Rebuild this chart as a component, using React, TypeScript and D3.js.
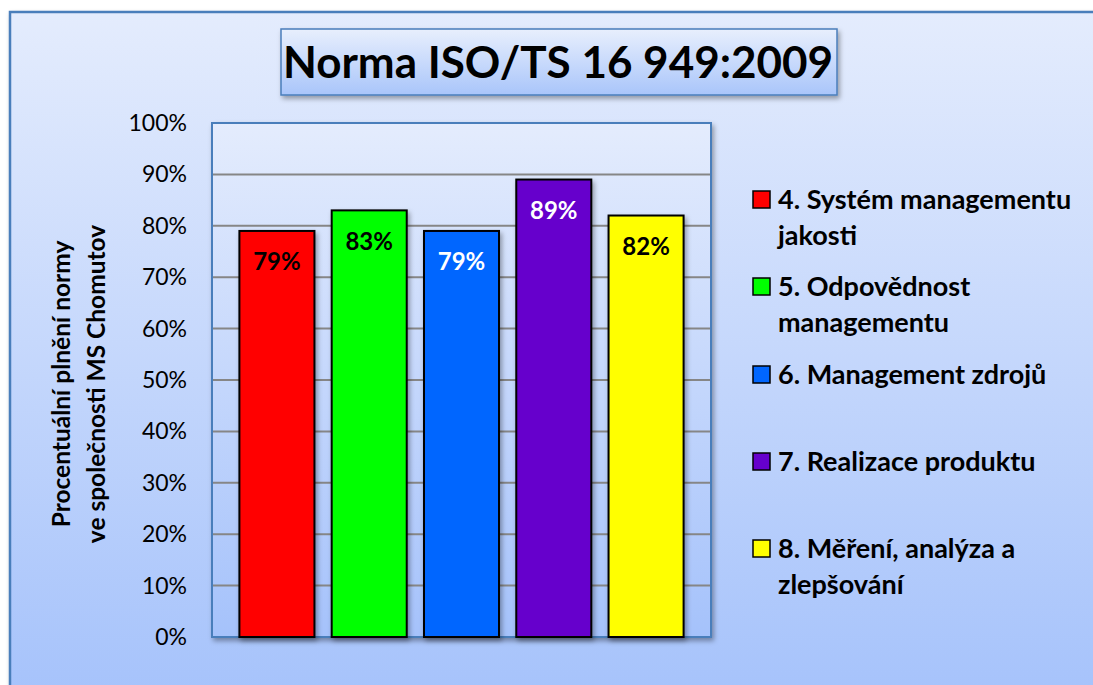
import { useRef, useEffect } from "react"
import * as d3 from "d3"

const categories = [
  "4. Systém managementu jakosti",
  "5. Odpovědnost managementu",
  "6. Management zdrojů",
  "7. Realizace produktu",
  "8. Měření, analýza a zlepšování",
]
const legendLines = [
  ["4. Systém managementu", "jakosti"],
  ["5. Odpovědnost", "managementu"],
  ["6. Management zdrojů"],
  ["7. Realizace produktu"],
  ["8. Měření, analýza a", "zlepšování"],
]
const values = [79, 83, 79, 89, 82]
const barColors = ["#ff0000", "#00ff00", "#0066ff", "#6600cc", "#ffff00"]
const labelColors = ["#000000", "#000000", "#ffffff", "#ffffff", "#000000"]
const yTicks = [0, 10, 20, 30, 40, 50, 60, 70, 80, 90, 100]
const title = "Norma ISO/TS 16 949:2009"
const yTitle = ["Procentuální plnění normy", "ve společnosti MS Chomutov"]

const FONT = "Lato, 'Open Sans', sans-serif"

export default function App() {
  const svgRef = useRef<SVGSVGElement>(null)

  useEffect(() => {
    const svg = d3.select(svgRef.current)
    svg.selectAll("*").remove()

    const width = 1093
    const height = 685
    const plot = { left: 212, right: 711, top: 123, bottom: 637 }

    const defs = svg.append("defs")
    const bg = defs.append("linearGradient").attr("id", "bg").attr("x1", 0).attr("y1", 0).attr("x2", 0).attr("y2", 1)
    bg.append("stop").attr("offset", "0%").attr("stop-color", "#e4ecfd")
    bg.append("stop").attr("offset", "100%").attr("stop-color", "#a5c2fb")

    const titleGrad = defs.append("linearGradient").attr("id", "titleGrad").attr("x1", 0).attr("y1", 0).attr("x2", 0).attr("y2", 1)
    titleGrad.append("stop").attr("offset", "0%").attr("stop-color", "#e8effd")
    titleGrad.append("stop").attr("offset", "100%").attr("stop-color", "#a9c5fa")

    const shadow = defs.append("filter").attr("id", "shadow").attr("x", "-20%").attr("y", "-20%").attr("width", "140%").attr("height", "140%")
    shadow.append("feDropShadow").attr("dx", 2).attr("dy", 3).attr("stdDeviation", 2.5).attr("flood-color", "#000").attr("flood-opacity", 0.35)

    // chart background
    svg.append("rect")
      .attr("x", 10).attr("y", 12).attr("width", width + 10).attr("height", height + 10)
      .attr("fill", "url(#bg)").attr("stroke", "#4a7ebb").attr("stroke-width", 2.5)
      .attr("filter", "url(#shadow)")

    const x = d3.scaleBand<string>()
      .domain(categories)
      .range([plot.left, plot.right])
      .paddingInner(0.187)
      .paddingOuter(0.297)

    const y = d3.scaleLinear().domain([0, 100]).range([plot.bottom, plot.top])

    // plot area
    svg.append("rect")
      .attr("x", plot.left).attr("y", plot.top)
      .attr("width", plot.right - plot.left).attr("height", plot.bottom - plot.top)
      .attr("fill", "url(#bg)").attr("stroke", "#4a7ebb").attr("stroke-width", 2)
      .attr("filter", "url(#shadow)")

    svg.append("g")
      .selectAll("line")
      .data(yTicks.filter((t) => t > 0 && t < 100))
      .join("line")
      .attr("x1", plot.left + 1).attr("x2", plot.right - 1)
      .attr("y1", (d) => y(d)).attr("y2", (d) => y(d))
      .attr("stroke", "#868686").attr("stroke-width", 2)

    svg.append("g")
      .selectAll("text")
      .data(yTicks)
      .join("text")
      .attr("x", 187).attr("y", (d) => y(d))
      .attr("dy", "0.35em")
      .attr("text-anchor", "end")
      .style("font-family", FONT).style("font-size", "23px").style("fill", "#000")
      .text((d) => `${d}%`)

    // bars
    svg.append("g")
      .selectAll("rect")
      .data(values)
      .join("rect")
      .attr("x", (d, i) => x(categories[i])!)
      .attr("y", (d) => y(d))
      .attr("width", x.bandwidth())
      .attr("height", (d) => y(0) - y(d))
      .attr("fill", (d, i) => barColors[i])
      .attr("stroke", "#000").attr("stroke-width", 2)
      .attr("filter", "url(#shadow)")

    svg.append("g")
      .selectAll("text")
      .data(values)
      .join("text")
      .attr("x", (d, i) => x(categories[i])! + x.bandwidth() / 2)
      .attr("y", (d) => y(d) + 31)
      .attr("dy", "0.35em")
      .attr("text-anchor", "middle")
      .style("font-family", FONT).style("font-size", "24px").style("font-weight", "bold")
      .style("fill", (d, i) => labelColors[i])
      .text((d) => `${d}%`)

    // y axis title
    const yt = svg.append("text")
      .attr("transform", "translate(80,384) rotate(-90)")
      .attr("text-anchor", "middle")
      .style("font-family", FONT).style("font-size", "24.5px").style("font-weight", "bold")
    yTitle.forEach((line, i) => {
      yt.append("tspan").attr("x", 0).attr("y", i === 0 ? -10 : 25).text(line)
    })

    // title box
    svg.append("rect")
      .attr("x", 281).attr("y", 29).attr("width", 556).attr("height", 66)
      .attr("fill", "url(#titleGrad)").attr("stroke", "#4a7ebb").attr("stroke-width", 1.5)
      .attr("filter", "url(#shadow)")
    svg.append("text")
      .attr("x", 558).attr("y", 63).attr("dy", "0.35em")
      .attr("text-anchor", "middle")
      .style("font-family", FONT).style("font-size", "44px").style("font-weight", "bold")
      .text(title)

    // legend
    const legendY = [200, 287, 375, 462, 549]
    const legend = svg.append("g")
      .selectAll("g")
      .data(legendLines)
      .join("g")
      .attr("transform", (d, i) => `translate(753,${legendY[i]})`)
    legend.append("rect")
      .attr("x", 0).attr("y", -9).attr("width", 17).attr("height", 17)
      .attr("fill", (d, i) => barColors[i]).attr("stroke", "#000").attr("stroke-width", 1.5)
    legend.append("text")
      .style("font-family", FONT).style("font-size", "27px").style("font-weight", "bold")
      .selectAll("tspan")
      .data((d) => d)
      .join("tspan")
      .attr("x", 25)
      .attr("y", (d, i) => i * 36)
      .attr("dy", "0.35em")
      .text((d) => d)
  }, [])

  return (
    <svg
      ref={svgRef}
      width={1093}
      height={685}
      style={{ position: "absolute", left: 0, top: 0, display: "block" }}
    ></svg>
  )
}
